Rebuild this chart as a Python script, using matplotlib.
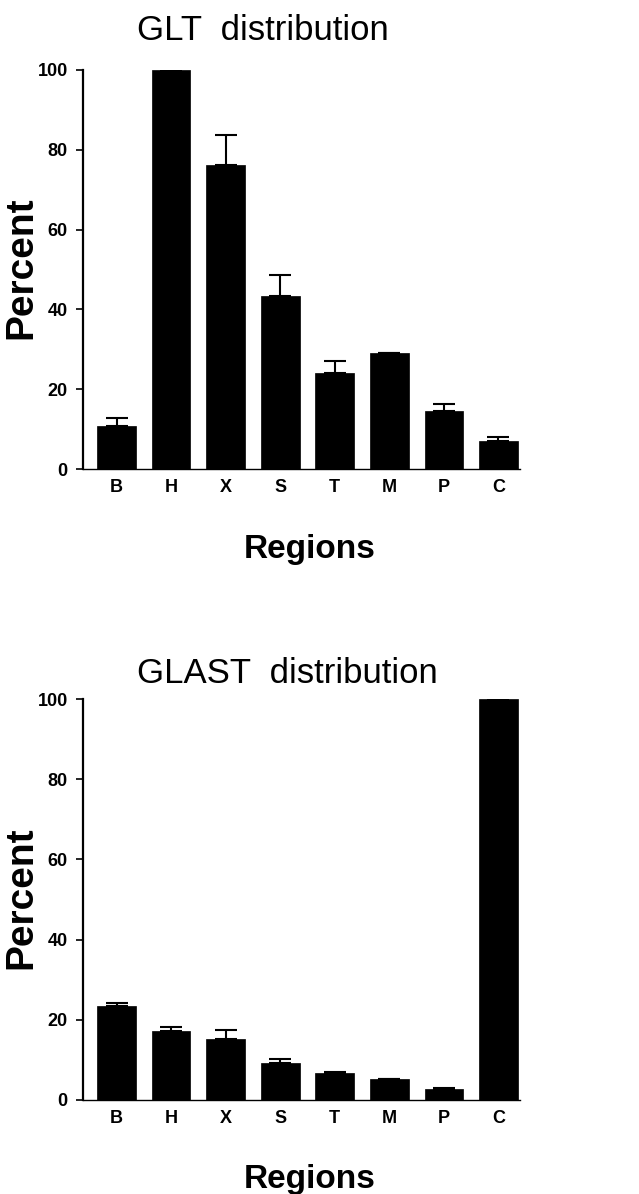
import numpy as np
import matplotlib
matplotlib.use('Agg')
import matplotlib.pyplot as plt

plt.rcParams['font.family'] = ['Liberation Sans', 'DejaVu Sans']

regions = ['B', 'H', 'X', 'S', 'T', 'M', 'P', 'C']
glt_mean = [10.9, 100.0, 76.1, 43.3, 24.1, 29.0, 14.6, 7.1]
glt_err = [2.0, 0.0, 7.6, 5.2, 3.0, 0.0, 1.7, 0.9]
glast_mean = [23.5, 17.3, 15.3, 9.3, 6.7, 5.2, 2.7, 100.0]
glast_err = [0.7, 0.9, 2.2, 0.9, 0.4, 0.0, 0.3, 0.0]
yticks = [0, 20, 40, 60, 80, 100]

W, H = 639, 1194
fig = plt.figure(figsize=(W / 100, H / 100), dpi=100)
fig.patch.set_facecolor('white')


def draw_panel(rect, means, errs):
    ax = fig.add_axes(rect)
    x = np.arange(len(regions))
    ax.bar(x, means, width=0.71, color='black', edgecolor='black', linewidth=0.5)
    lower = np.zeros(len(errs))
    ax.errorbar(x, means, yerr=[lower, errs], fmt='none', ecolor='black',
                elinewidth=1.5, capsize=8, capthick=1.5)
    ax.set_xlim(-0.614, 7.394)
    ax.set_ylim(0, 100)
    ax.set_yticks(yticks)
    ax.set_xticks(x)
    ax.set_xticklabels(regions, fontsize=13, fontweight='bold')
    for lab in ax.get_yticklabels():
        lab.set_fontsize(13)
        lab.set_fontweight('bold')
    ax.tick_params(axis='y', direction='out', length=5, width=1.2, pad=6)
    ax.tick_params(axis='x', length=0, pad=7)
    ax.spines['top'].set_visible(False)
    ax.spines['right'].set_visible(False)
    ax.spines['left'].set_linewidth(1.6)
    ax.spines['bottom'].set_linewidth(1.0)
    return ax


# top panel: GLT
draw_panel([83 / W, 1 - 469 / H, 437 / W, 399 / H], glt_mean, glt_err)
# bottom panel: GLAST
draw_panel([83 / W, 1 - 1100 / H, 437 / W, 401 / H], glast_mean, glast_err)

fig.text(263 / W, 1 - 40 / H, 'GLT  distribution', fontsize=25,
         ha='center', va='baseline')
fig.text(287 / W, 1 - 683 / H, 'GLAST  distribution', fontsize=25,
         ha='center', va='baseline')

fig.text(310 / W, 1 - 558 / H, 'Regions', fontsize=24, fontweight='bold',
         ha='center', va='baseline')
fig.text(310 / W, 1 - 1188 / H, 'Regions', fontsize=24, fontweight='bold',
         ha='center', va='baseline')

fig.text(21 / W, 1 - 268 / H, 'Percent', fontsize=28, fontweight='bold',
         rotation=90, ha='center', va='center')
fig.text(21 / W, 1 - 898 / H, 'Percent', fontsize=28, fontweight='bold',
         rotation=90, ha='center', va='center')

fig.savefig('out.png', dpi=100)
